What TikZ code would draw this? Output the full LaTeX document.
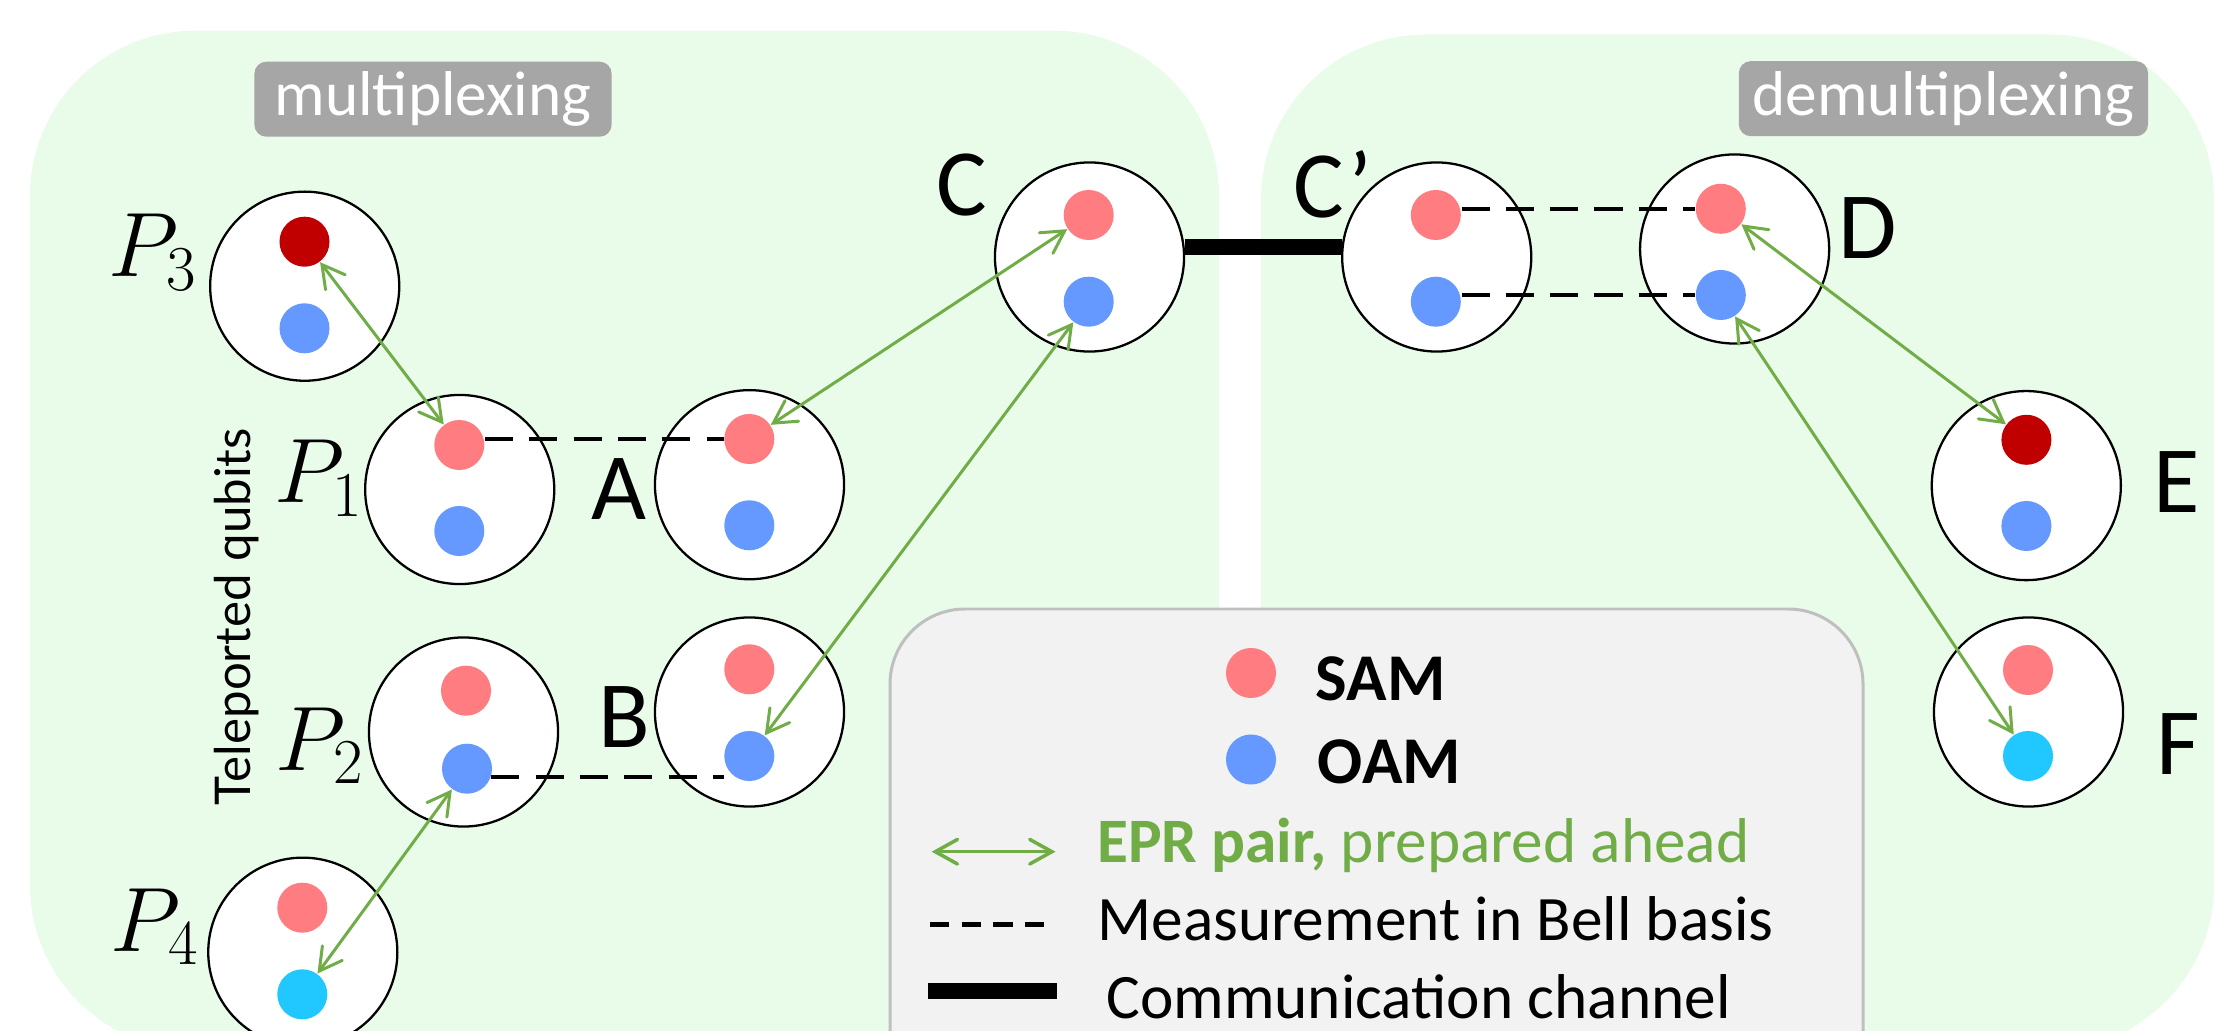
\RequirePackage{fix-cm}
\documentclass[tikz,border=0pt]{standalone}
\usepackage{fontspec}
\setmainfont{Carlito}
\newfontfamily\sidefont{Lato}
\usetikzlibrary{arrows.meta}

\definecolor{panelgreen}{RGB}{233,252,233}
\definecolor{samcol}{RGB}{255,124,128}
\definecolor{oamcol}{RGB}{102,153,255}
\definecolor{samdark}{RGB}{192,0,0}
\definecolor{oamcyan}{RGB}{33,199,255}
\definecolor{eprgreen}{RGB}{112,173,71}
\definecolor{tagfill}{RGB}{166,166,166}
\definecolor{legfill}{RGB}{242,242,242}
\definecolor{legline}{RGB}{191,191,191}

\begin{document}
\begin{tikzpicture}[x=0.01cm, y=-0.01cm,
  panel/.style={fill=panelgreen, rounded corners=1.65cm},
  holder/.style={circle, draw=black, line width=0.65pt, fill=white, minimum size=1.89cm, inner sep=0pt},
  qdot/.style={circle, fill=#1, minimum size=0.5cm, inner sep=0pt},
  tag/.style={fill=tagfill, rounded corners=0.12cm, text=white, font=\fontsize{18}{20}\selectfont, minimum height=0.75cm, inner sep=0pt},
  letter/.style={font=\fontsize{27}{30}\selectfont, anchor=base, inner sep=0pt},
  plabel/.style={font=\fontsize{26}{30}\selectfont, anchor=base west, inner sep=0pt},
  barb/.tip={Straight Barb[length=6.3pt,width=7pt,line cap=round]},
  eprpair/.style={draw=eprgreen, line width=0.85pt, barb-barb},
  bell/.style={draw=black, line width=1.15pt, dash pattern=on 8pt off 4.6pt},
  channel/.style={draw=black, line width=4.55pt},
  legtext/.style={font=\fontsize{18}{20}\selectfont, anchor=base west, inner sep=0pt},
]
\useasboundingbox (0,0) rectangle (2237,1031);
\clip (0,0) rectangle (2237,1031);

% background panels
\path[panel] (30,30.7) rectangle (1219,1050);
\path[panel] (1261,34.5) rectangle (2214,1050);

% panel tags
\node[tag, minimum width=3.57cm] (tmux) at (433,99.2) {multiplexing};
\node[tag, minimum width=4.09cm] (tdemux) at (1943.4,98.7) {demultiplexing};

% legend
\path[fill=legfill, draw=legline, line width=0.85pt, rounded corners=0.75cm] (890,609) rectangle (1863,1120);
\node[qdot=samcol] (lsam) at (1251,673) {};
\node[legtext, font=\bfseries\fontsize{19}{22}\selectfont] (tsam) at (1315,700) {SAM};
\node[qdot=oamcol] (loam) at (1251,759.5) {};
\node[legtext, font=\bfseries\fontsize{19}{22}\selectfont] (toam) at (1317,783) {OAM};
\coordinate (ea) at (931.7,851.7);
\coordinate (eb) at (1055.5,851.7);
\draw[eprpair, line width=1pt] (ea) -- (eb);
\node[legtext, text=eprgreen] (tepr) at (1096.5,862) {\textbf{EPR pair,} prepared ahead};
\coordinate (ma) at (930,924.5);
\coordinate (mb) at (1052,924.5);
\draw[bell, line width=1.3pt, dash pattern=on 5.5pt off 3.5pt] (ma) -- (mb);
\node[legtext] (tbell) at (1097,940) {Measurement in Bell basis};
\coordinate (ca) at (928,990.5);
\coordinate (cb) at (1057,990.5);
\draw[channel] (ca) -- (cb);
\node[legtext] (tchan) at (1105.7,1018) {Communication channel};

% qubit holders
\node[holder] (P3c) at (304.7,286.2) {};
\node[holder] (P1c) at (459.7,489.5) {};
\node[holder] (Ac)  at (749.5,484.7) {};
\node[holder] (P2c) at (463.5,732) {};
\node[holder] (Bc)  at (749.5,712) {};
\node[holder] (P4c) at (302.8,952.2) {};
\node[holder] (Cc)  at (1089.5,257) {};
\node[holder] (Cpc) at (1436.7,257) {};
\node[holder] (Dc)  at (1734.6,249) {};
\node[holder] (Ec)  at (2026.3,485.6) {};
\node[holder] (Fc)  at (2028.5,712) {};

% SAM (top) and OAM (bottom) qubits
\node[qdot=samdark] (P3s) at (304.5,241.7) {};
\node[qdot=oamcol]  (P3o) at (304.5,328.3) {};
\node[qdot=samcol]  (P1s) at (459.3,445) {};
\node[qdot=oamcol]  (P1o) at (459.3,531) {};
\node[qdot=samcol]  (As)  at (749.3,439) {};
\node[qdot=oamcol]  (Ao)  at (749.3,525.3) {};
\node[qdot=samcol]  (P2s) at (466,690.7) {};
\node[qdot=oamcol]  (P2o) at (467,768.7) {};
\node[qdot=samcol]  (Bs)  at (749.3,669.3) {};
\node[qdot=oamcol]  (Bo)  at (749.3,756) {};
\node[qdot=samcol]  (P4s) at (302.3,907.7) {};
\node[qdot=oamcyan] (P4o) at (302.3,994.3) {};
\node[qdot=samcol]  (Cs)  at (1088.7,215) {};
\node[qdot=oamcol]  (Co)  at (1088.7,301.7) {};
\node[qdot=samcol]  (Cps) at (1435.8,215) {};
\node[qdot=oamcol]  (Cpo) at (1435.8,301.7) {};
\node[qdot=samcol]  (Ds)  at (1720.8,208.8) {};
\node[qdot=oamcol]  (Do)  at (1720.8,295) {};
\node[qdot=samdark] (Es)  at (2026.4,439.8) {};
\node[qdot=oamcol]  (Eo)  at (2026.4,526) {};
\node[qdot=samcol]  (Fs)  at (2028,670) {};
\node[qdot=oamcyan] (Fo)  at (2028,756) {};

% labels
\node[plabel] (lP3) at (108,277) {$P_3$};
\node[plabel] (lP1) at (274,503) {$P_1$};
\node[plabel] (lP2) at (275,770) {$P_2$};
\node[plabel] (lP4) at (110,951) {$P_4$};
\node[letter] (lA) at (618.5,520) {A};
\node[letter] (lB) at (624.5,747) {B};
\node[letter] (lC) at (962,215.7) {C};
\node[letter, anchor=base west] (lCp) at (1293,218) {C’};
\node[letter] (lD) at (1868,258.6) {D};
\node[letter] (lE) at (2176.5,512.6) {E};
\node[letter] (lF) at (2178.5,774) {F};
\node[rotate=90, anchor=base, font=\sidefont\fontsize{14}{16}\selectfont, inner sep=0pt] (tq) at (250,616.7) {Teleported qubits};

% Bell-basis measurements
\draw[bell] (P1s.east |- As.west) -- (As.west);
\draw[bell] (P2o.-19) -- (Bo.west |- P2o.-19);
\draw[bell] (Cps.east |- Ds.west) -- (Ds.west);
\draw[bell] (Cpo.east |- Do.west) -- (Do.west);

% communication channel
\draw[channel] (Cc.6) -- (Cpc.174);

% EPR pairs
\draw[eprpair] (P3s) -- (P1s);
\draw[eprpair] (As) -- (Cs);
\draw[eprpair] (Bo) -- (Co);
\draw[eprpair] (P2o) -- (P4o);
\draw[eprpair] (Ds) -- (Es);
\draw[eprpair] (Do) -- (Fo);
\end{tikzpicture}
\end{document}
